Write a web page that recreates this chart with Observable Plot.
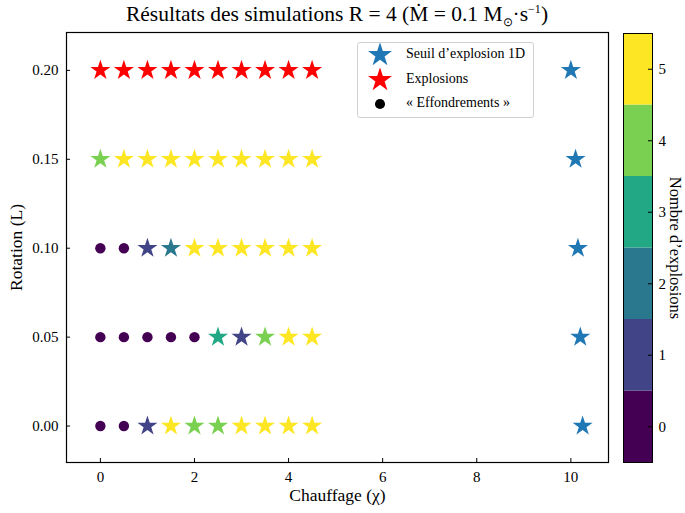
<!DOCTYPE html>
<html><head><meta charset="utf-8">
<script src="https://cdn.jsdelivr.net/npm/d3@7"></script>
<script src="https://cdn.jsdelivr.net/npm/@observablehq/plot@0.6"></script>
<style>
body{margin:0;background:#fff;font-family:"Liberation Serif",serif;}
#wrap{position:relative;width:685px;height:513px;overflow:hidden;}
#title{position:absolute;left:66px;width:542px;top:2px;text-align:center;font-size:21.5px;color:#000;white-space:nowrap;}
#title sub,#title sup{font-size:12px;}
#legend{position:absolute;left:357px;top:42px;width:175px;height:74px;border:1px solid #d0d0d0;border-radius:3px;background:rgba(255,255,255,0.8);font-size:14px;}
.row{position:absolute;left:0;height:20px;display:flex;align-items:center;}
.row svg{margin-left:10px;margin-right:14px;}
#main,#cbar{position:absolute;top:0;}
#main{left:0;} #cbar{left:623px;}
</style></head>
<body><div id="wrap"><div id="main"></div><div id="cbar"></div>
<div id="title">Résultats des simulations R = 4 (Ṁ = 0.1 M<sub>⊙</sub>·s<sup>−1</sup>)</div>
<div id="legend"></div></div>
<script>
// ---- data ----
const chi = [0, 0.5, 1, 1.5, 2, 2.5, 3, 3.5, 4, 4.5];
const rotations = [0.00, 0.05, 0.10, 0.15];
const nExplosions = [
  [0, 0, 1, 5, 4, 4, 5, 5, 5, 5],   // L = 0.00
  [0, 0, 0, 0, 0, 3, 1, 4, 5, 5],   // L = 0.05
  [0, 0, 1, 2, 5, 5, 5, 5, 5, 5],   // L = 0.10
  [4, 5, 5, 5, 5, 5, 5, 5, 5, 5]    // L = 0.15
];
const explosionRotation = 0.20;      // red stars row
const thresholdRotation = [0.00, 0.05, 0.10, 0.15, 0.20];
const thresholdChi = [10.25, 10.2, 10.15, 10.1, 10.0];
const counts = [0, 1, 2, 3, 4, 5];
const viridis6 = ["#440154", "#414487", "#2a788e", "#22a884", "#7ad151", "#fde725"];
const xTicks = [0, 2, 4, 6, 8, 10];
const yTicks = [0.00, 0.05, 0.10, 0.15, 0.20];

// ---- derived tables ----
const grid = [];
rotations.forEach((L, i) => chi.forEach((c, j) => grid.push({chi: c, L, n: nExplosions[i][j]})));
const collapses = grid.filter(d => d.n === 0);
const partial = grid.filter(d => d.n > 0);
const explosions = chi.map(c => ({chi: c, L: explosionRotation}));
const threshold = thresholdChi.map((c, i) => ({chi: c, L: thresholdRotation[i]}));

const W = 685, H = 513, mL = 66, mR = 77, mT = 32, mB = 51;
const pw = W - mL - mR, ph = H - mT - mB;
const font = "Liberation Serif";

const main = Plot.plot({
  width: W, height: H, marginLeft: mL, marginRight: mR, marginTop: mT, marginBottom: mB,
  style: {fontFamily: font, fontSize: "15px", background: "transparent", color: "#000"},
  x: {domain: [-0.72, 10.8]},
  y: {domain: [-0.0205, 0.2213]},
  color: {type: "ordinal", domain: counts, range: viridis6},
  marks: [
    Plot.axisX(xTicks, {tickSize: 0, tickPadding: 9, fontSize: 15, label: null}),
    Plot.axisY(yTicks, {tickSize: 0, tickPadding: 8, fontSize: 15, tickFormat: d3.format(".2f"), label: null}),
    Plot.tickX(xTicks, {x: d => d, stroke: "#000", strokeWidth: 1, insetTop: ph - 4}),
    Plot.tickY(yTicks, {y: d => d, stroke: "#000", strokeWidth: 1, insetRight: pw - 4}),
    Plot.text(["Chauffage (χ)"], {frameAnchor: "bottom", textAnchor: "middle", dy: 38, fontSize: 17.5, text: d => d}),
    Plot.text(["Rotation (L)"], {frameAnchor: "left", textAnchor: "middle", dx: -50, rotate: -90, fontSize: 17.5, text: d => d}),
    Plot.dot(collapses, {x: "chi", y: "L", r: 5.2, symbol: "circle", fill: d => d.n}),
    Plot.dot(partial, {x: "chi", y: "L", r: 6.3, symbol: "star", fill: d => d.n}),
    Plot.dot(explosions, {x: "chi", y: "L", r: 6.3, symbol: "star", fill: "#ff0000"}),
    Plot.dot(threshold, {x: "chi", y: "L", r: 6.3, symbol: "star", fill: "#1f77b4"}),
    Plot.frame({stroke: "#000", strokeWidth: 1.2})
  ]
});
document.getElementById("main").appendChild(main);

// ---- colorbar ----
const cbW = 62, barW = 29;
const cbar = Plot.plot({
  width: cbW, height: H, marginLeft: 0, marginRight: cbW - barW, marginTop: mT + 1, marginBottom: mB,
  style: {fontFamily: font, fontSize: "15px", background: "transparent", color: "#000"},
  x: {domain: [0, 1], axis: null},
  y: {domain: [-0.5, 5.5]},
  color: {type: "ordinal", domain: counts, range: viridis6},
  marks: [
    Plot.rect(counts, {x1: 0, x2: 1, y1: d => d - 0.5, y2: d => d + 0.5, fill: d => d}),
    Plot.tickY(counts, {y: d => d, stroke: "#000", insetLeft: barW - 4}),
    Plot.axisY(counts, {anchor: "right", tickSize: 0, tickPadding: 6, fontSize: 15, tickFormat: d3.format("d"), label: null}),
    Plot.text(["Nombre d’explosions"], {frameAnchor: "right", textAnchor: "middle", dx: 23, rotate: 90, fontSize: 16.5, text: d => d}),
    Plot.frame({stroke: "#000", strokeWidth: 1})
  ]
});
document.getElementById("cbar").appendChild(cbar);

// ---- legend ----
const legendItems = [
  {label: "Seuil d’explosion 1D", symbol: d3.symbolStar, size: 180, color: "#1f77b4"},
  {label: "Explosions", symbol: d3.symbolStar, size: 180, color: "#ff0000"},
  {label: "« Effondrements »", symbol: d3.symbolCircle, size: 80, color: "#000"}
];
const leg = document.getElementById("legend");
legendItems.forEach((it, i) => {
  const row = document.createElement("div");
  row.className = "row";
  row.style.top = (1 + i * 24.5) + "px";
  row.innerHTML = `<svg width="24" height="22"><path transform="translate(12,12)" d="${d3.symbol(it.symbol, it.size)()}" fill="${it.color}"></path></svg><span>${it.label}</span>`;
  leg.appendChild(row);
});
</script></body></html>
